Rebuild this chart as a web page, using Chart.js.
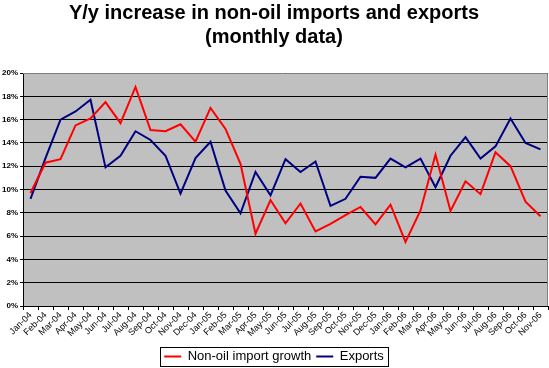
<!DOCTYPE html>
<html>
<head>
<meta charset="utf-8">
<script src="https://cdn.jsdelivr.net/npm/chart.js@4.4.1/dist/chart.umd.min.js"></script>
<style>
  html, body { margin: 0; padding: 0; background: #fff; }
  #wrap { width: 549px; height: 368px; }
</style>
</head>
<body>
<div id="wrap"><canvas id="myChart" width="549" height="368"></canvas></div>
<script>
var months = ['Jan-04','Feb-04','Mar-04','Apr-04','May-04','Jun-04','Jul-04','Aug-04','Sep-04','Oct-04','Nov-04','Dec-04',
              'Jan-05','Feb-05','Mar-05','Apr-05','May-05','Jun-05','Jul-05','Aug-05','Sep-05','Oct-05','Nov-05','Dec-05',
              'Jan-06','Feb-06','Mar-06','Apr-06','May-06','Jun-06','Jul-06','Aug-06','Sep-06','Oct-06','Nov-06'];
var importGrowth = [9.7, 12.3, 12.6, 15.5, 16.1, 17.5, 15.7, 18.8, 15.1, 15.0, 15.6, 14.1,
                    17.0, 15.2, 12.2, 6.2, 9.1, 7.1, 8.8, 6.4, 7.05, 7.8, 8.5, 7.0,
                    8.7, 5.5, 8.2, 13.0, 8.15, 10.7, 9.6, 13.2, 12.0, 8.95, 7.7];
var exportGrowth = [9.2, 12.7, 16.0, 16.7, 17.7, 11.9, 12.9, 15.0, 14.25, 12.9, 9.65, 12.7,
                    14.1, 9.9, 7.95, 11.5, 9.5, 12.6, 11.5, 12.4, 8.6, 9.2, 11.1, 11.0,
                    12.65, 11.9, 12.65, 10.2, 12.9, 14.5, 12.65, 13.7, 16.1, 14.0, 13.45];
var yTicks = [0, 2, 4, 6, 8, 10, 12, 14, 16, 18, 20];

// gray plot area + border, legend frame
var plotBack = {
    id: 'plotBack',
    beforeDraw: function (chart) {
        var a = chart.chartArea, c = chart.ctx;
        c.save();
        c.fillStyle = '#c0c0c0';
        c.fillRect(a.left, a.top, a.right - a.left, a.bottom - a.top);
        c.restore();
    },
    afterDraw: function (chart) {
        var a = chart.chartArea, c = chart.ctx;
        c.save();
        c.strokeStyle = '#808080';
        c.lineWidth = 1;
        c.beginPath();
        c.moveTo(a.left, a.top + 0.5);
        c.lineTo(a.right - 0.5, a.top + 0.5);
        c.lineTo(a.right - 0.5, a.bottom);
        c.stroke();
        // legend frame
        var hb = chart.legend.legendHitBoxes;
        if (hb && hb.length) {
            var x1 = hb[0].left - 4, x2 = hb[hb.length - 1].left + hb[hb.length - 1].width + 4;
            var y1 = hb[0].top - 3, y2 = hb[0].top + hb[0].height + 3;
            c.strokeStyle = '#000';
            c.strokeRect(Math.round(x1) + 0.5, Math.round(y1) + 0.5, Math.round(x2 - x1), Math.round(y2 - y1));
        }
        c.restore();
    }
};

var ctx = document.getElementById('myChart');
new Chart(ctx, {
    type: 'line',
    data: {
        labels: months,
        datasets: [{
            label: 'Non-oil import growth',
            data: importGrowth,
            borderColor: '#ff0000',
            backgroundColor: '#ff0000',
            borderWidth: 2,
            pointRadius: 0,
            tension: 0
        }, {
            label: 'Exports',
            data: exportGrowth,
            borderColor: '#000080',
            backgroundColor: '#000080',
            borderWidth: 2,
            pointRadius: 0,
            tension: 0
        }]
    },
    options: {
        responsive: false,
        animation: false,
        layout: { padding: { left: 0, right: 1, top: 0, bottom: -5 } },
        plugins: {
            title: {
                display: true,
                text: ['Y/y increase in non-oil imports and exports', '(monthly data)'],
                color: '#000',
                font: { family: 'Liberation Sans', size: 20, weight: 'bold', lineHeight: 1.2 },
                padding: { top: 1, bottom: 24 }
            },
            legend: {
                position: 'bottom',
                labels: {
                    color: '#000',
                    font: { family: 'Liberation Sans', size: 13 },
                    boxWidth: 17,
                    boxHeight: 2,
                    padding: 5,
                    generateLabels: function (chart) {
                        return chart.data.datasets.map(function (ds, i) {
                            return { text: ds.label, fillStyle: ds.borderColor, strokeStyle: ds.borderColor,
                                     lineWidth: 0, datasetIndex: i, fontColor: '#000' };
                        });
                    }
                }
            },
            tooltip: { enabled: false }
        },
        scales: {
            x: {
                offset: true,
                grid: { display: true, drawOnChartArea: false, offset: true, color: '#000', tickLength: 4 },
                border: { display: true, color: '#000' },
                ticks: {
                    color: '#000',
                    autoSkip: false,
                    maxRotation: 45,
                    minRotation: 45,
                    padding: 0,
                    font: { family: 'Liberation Sans', size: 9 }
                },
                afterFit: function (s) { s.height = 39; }
            },
            y: {
                min: 0,
                max: 20,
                afterBuildTicks: function (s) { s.ticks = yTicks.map(function (v) { return { value: v }; }); },
                grid: { color: '#000', tickLength: 3 },
                border: { display: true, color: '#000' },
                ticks: {
                    color: '#000',
                    padding: 2,
                    font: { family: 'Liberation Sans', size: 8, weight: 'bold' },
                    callback: function (v) { return v + '%'; }
                },
                afterFit: function (s) { s.width = 23; }
            }
        }
    },
    plugins: [plotBack]
});
</script>
</body>
</html>
